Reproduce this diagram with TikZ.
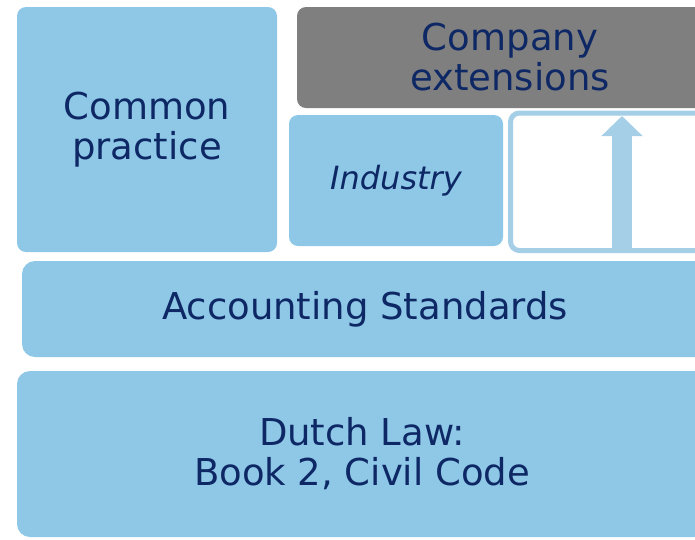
\documentclass[tikz,border=0pt]{standalone}
\usepackage{fontspec}
\setmainfont{DejaVu Sans}
\usetikzlibrary{arrows.meta}
\definecolor{boxblue}{RGB}{142,200,230}
\definecolor{arrowblue}{RGB}{164,207,231}
\definecolor{boxgray}{RGB}{127,127,127}
\definecolor{navy}{RGB}{14,40,101}
\tikzset{
  layer/.style={fill=boxblue, draw=none, rounded corners=9pt, inner sep=0pt, outer sep=0pt,
    text=navy, align=center, font=\fontsize{37}{40}\selectfont},
  graylayer/.style={layer, fill=boxgray},
  outlinebox/.style={draw=arrowblue, line width=5pt, fill=white, rounded corners=9pt},
  uparrow/.style={draw=arrowblue, line width=20pt, -{Triangle[width=40pt,length=20pt]}}
}
\begin{document}
\begin{tikzpicture}[x=1pt,y=-1pt]
\useasboundingbox (0,0) rectangle (695,539);
\clip (0,0) rectangle (695,539);
\node[layer, minimum width=260pt, minimum height=245pt] (common) at (147,129.5) {Common\\practice};
\node[graylayer, minimum width=426pt, minimum height=101pt] (company) at (510,57.5) {Company\\extensions};
\node[layer, minimum width=214pt, minimum height=131pt, font=\fontsize{32}{36}\itshape] (industry) at (396,180.5) {Industry};
\draw[outlinebox] (510.5,113) rectangle (720,250.5);
\coordinate (arrowbase) at (622,248);
\coordinate (arrowtip) at (622,116);
\draw[uparrow] (arrowbase) -- (arrowtip);
\node[layer, rounded corners=13pt, minimum width=686pt, minimum height=96pt] (accounting) at (365,309) {Accounting Standards};
\node[layer, rounded corners=13pt, minimum width=690pt, minimum height=166pt] (dutch) at (362,454) {Dutch Law:\\Book 2, Civil Code};
\end{tikzpicture}
\end{document}
